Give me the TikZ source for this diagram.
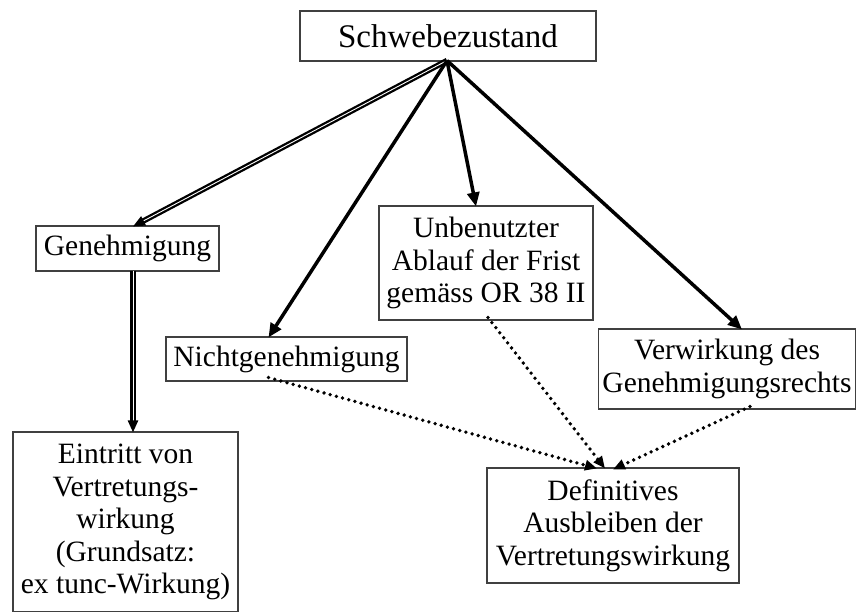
\documentclass[tikz,border=0pt]{standalone}
\usepackage{fontspec}
\setmainfont{Liberation Serif}
\usetikzlibrary{arrows.meta}
\begin{document}
\begin{tikzpicture}[x=1pt,y=-1pt,
  box/.style={draw=black!75,line width=1.1pt,inner sep=0pt,align=center,
    font=\fontsize{29.5}{32.5}\selectfont},
  solidarrow/.style={line width=3.5pt,-{Triangle[length=14pt,width=12pt]}},
  dblarrow/.style={double=white,double distance=0.9pt,line width=2.3pt,
    -{Triangle[length=12pt,width=10pt]}},
  dotarrow/.style={line width=3.8pt,line cap=round,dash pattern=on 0pt off 6.4pt,
    -{Triangle[length=12pt,width=10pt]}}]
\useasboundingbox (0,0) rectangle (856,612);
\clip (0,0) rectangle (856,612);
\node[box,minimum width=296pt,minimum height=50pt,font=\fontsize{33}{36}\selectfont] (S) at (448,36) {Schwebezustand};
\node[box,minimum width=183pt,minimum height=45pt] (G) at (127.5,248.5) {Genehmigung};
\node[box,minimum width=225pt,minimum height=180pt] (E) at (125.5,522) {Eintritt von\\Vertretungs-\\wirkung\\(Grundsatz:\\ex tunc-Wirkung)};
\node[box,minimum width=241pt,minimum height=44pt] (N) at (286.5,359) {Nichtgenehmigung};
\node[box,minimum width=214pt,minimum height=114pt] (U) at (486,263) {Unbenutzter\\Ablauf der Frist\\gemäss OR 38 II};
\node[box,minimum width=257pt,minimum height=80pt] (V) at (727,369) {Verwirkung des\\Genehmigungsrechts};
\node[box,minimum width=252pt,minimum height=115pt] (D) at (613,525.5) {Definitives\\Ausbleiben der\\Vertretungswirkung};
% connectors
\draw[dblarrow] ([xshift=-1pt,yshift=1pt]S.south) -- ([xshift=5.5pt,yshift=-1pt]G.north);
\draw[solidarrow] ([xshift=-1pt,yshift=1pt]S.south) -- ([xshift=-18pt,yshift=-1pt]N.north);
\draw[solidarrow] ([xshift=-1pt,yshift=1pt]S.south) -- ([xshift=-10pt,yshift=-1pt]U.north);
\draw[solidarrow] ([xshift=-1pt,yshift=1pt]S.south) -- ([xshift=15pt,yshift=-1pt]V.north);
\draw[dblarrow] ([xshift=5.5pt,yshift=1pt]G.south) -- ([xshift=7.5pt,yshift=-1pt]E.north);
\draw[dotarrow] ([xshift=-18pt,yshift=4pt]N.south) -- ([xshift=-16pt,yshift=-1pt]D.north);
\draw[dotarrow] ([xshift=2pt,yshift=3pt]U.south) -- ([xshift=-8pt,yshift=-1pt]D.north);
\draw[dotarrow] ([xshift=23pt,yshift=3pt]V.south) -- ([xshift=0pt,yshift=-2pt]D.north);
\end{tikzpicture}
\end{document}
